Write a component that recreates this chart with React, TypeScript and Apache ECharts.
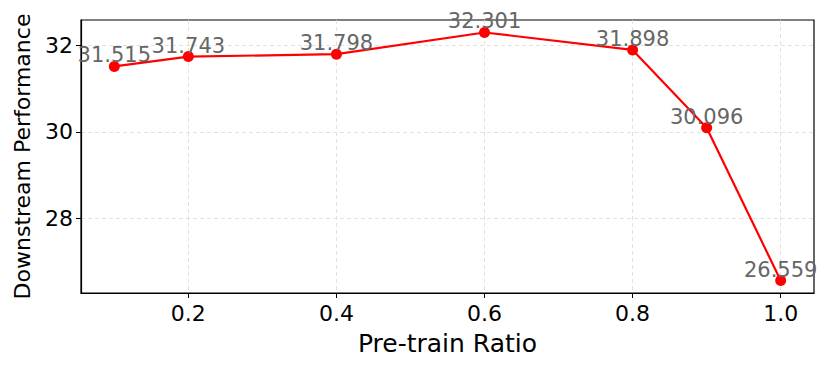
import React, { useEffect, useRef } from "react";
import * as echarts from "echarts";

const ratios = [0.1, 0.2, 0.4, 0.6, 0.8, 0.9, 1.0];
const performance = [31.515, 31.743, 31.798, 32.301, 31.898, 30.096, 26.559];
const xTicks = [0.2, 0.4, 0.6, 0.8, 1.0];
const yTicks = [28, 30, 32];

const FONT = "DejaVu Sans";

export default function App() {
  const ref = useRef<HTMLDivElement>(null);
  useEffect(() => {
    if (!ref.current) return;
    const chart = echarts.init(ref.current, null, { renderer: "svg" });
    chart.setOption({
      animation: false,
      grid: {
        left: 81,
        right: 16,
        top: 20,
        bottom: 78,
        show: true,
        borderColor: "#000",
        borderWidth: 1.2,
        backgroundColor: "transparent",
      },
      xAxis: {
        type: "value",
        min: 0.055,
        max: 1.045,
        name: "Pre-train Ratio",
        nameLocation: "middle",
        nameGap: 38,
        nameTextStyle: { fontFamily: FONT, fontSize: 25, color: "#000" },
        axisLine: { show: true, lineStyle: { color: "#000", width: 1.2 } },
        axisTick: {
          show: true,
          customValues: xTicks,
          length: 5,
          lineStyle: { color: "#000", width: 1 },
        },
        axisLabel: {
          customValues: xTicks,
          formatter: (v: number) => v.toFixed(1),
          fontFamily: FONT,
          fontSize: 22,
          color: "#000",
          margin: 9,
        },
        splitLine: {
          show: true,
          lineStyle: { color: "#d9d9d9", type: [4, 3], width: 0.8 },
        },
      },
      yAxis: {
        type: "value",
        min: 26.27,
        max: 32.59,
        name: "Downstream Performance",
        nameLocation: "middle",
        nameGap: 48,
        nameTextStyle: { fontFamily: FONT, fontSize: 22, color: "#000" },
        axisLine: { show: true, lineStyle: { color: "#000", width: 1.2 } },
        axisTick: {
          show: true,
          customValues: yTicks,
          length: 5,
          lineStyle: { color: "#000", width: 1 },
        },
        axisLabel: {
          customValues: yTicks,
          fontFamily: FONT,
          fontSize: 22,
          color: "#000",
          margin: 8,
        },
        splitLine: {
          show: true,
          lineStyle: { color: "#d9d9d9", type: [4, 3], width: 0.8 },
        },
      },
      series: [
        {
          type: "line",
          data: ratios.map((r, i) => [r, performance[i]]),
          lineStyle: { color: "#ff0000", width: 2.2 },
          itemStyle: { color: "#ff0000" },
          symbol: "circle",
          symbolSize: 11,
          label: {
            show: true,
            position: "top",
            distance: -5,
            formatter: (p: any) => p.value[1].toFixed(3),
            fontFamily: FONT,
            fontSize: 21,
            color: "#666666",
          },
        },
      ],
    });
    return () => chart.dispose();
  }, []);
  return (
    <div
      ref={ref}
      style={{ position: "absolute", left: 0, top: 0, width: 830, height: 371 }}
    />
  );
}
